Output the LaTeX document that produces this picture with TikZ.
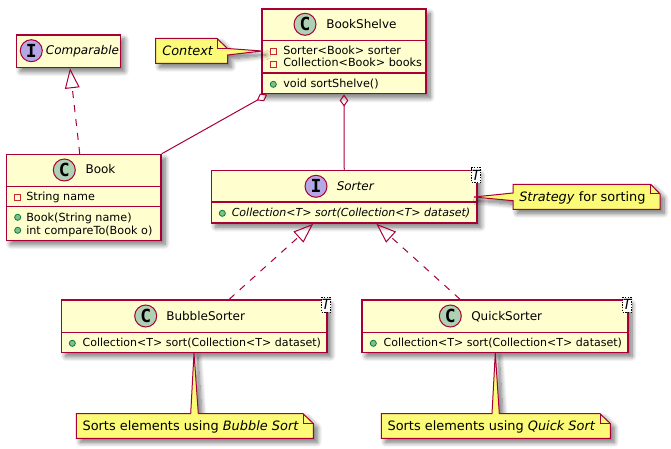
\documentclass[tikz,border=0pt]{standalone}
\usepackage{fontspec}
\setmainfont{DejaVu Sans}
\newfontfamily\spotfont{DejaVu Sans Mono}
\usepackage{tikz}
\usetikzlibrary{calc,arrows.meta,shadows.blur}
\definecolor{umlline}{HTML}{A80036}
\definecolor{umlfill}{HTML}{FEFECE}
\definecolor{notefill}{HTML}{FBFB77}
\definecolor{spotclass}{HTML}{ADD1B2}
\definecolor{spotiface}{HTML}{B4A7E5}
\definecolor{dotline}{HTML}{038048}
\definecolor{dotfill}{HTML}{84BE84}
\definecolor{fieldline}{HTML}{C82930}
\tikzset{
  softshadow/.style={blur shadow={shadow xshift=3pt,shadow yshift=-3pt,shadow blur radius=3.6pt,shadow blur steps=10,shadow opacity=55}},
  classbox/.style={draw=umlline,fill=umlfill,line width=1.1pt,inner sep=0pt,softshadow},
  divider/.style={draw=umlline,line width=.9pt},
  notebox/.style={draw=umlline,fill=notefill,line width=.75pt,line join=miter,softshadow},
  notefold/.style={draw=umlline,line width=.75pt},
  spot/.style={circle,draw=umlline,line width=.75pt,minimum size=16.5pt,inner sep=0pt,font=\spotfont\bfseries\fontsize{13.5pt}{13.5pt}\selectfont},
  titletext/.style={anchor=base west,inner sep=0pt,font=\fontsize{9pt}{11pt}\selectfont},
  membertext/.style={anchor=base west,inner sep=0pt,font=\fontsize{8.4pt}{10pt}\selectfont},
  longtext/.style={anchor=base west,inner sep=0pt,font=\fontsize{8.28pt}{10pt}\selectfont},
  notetext/.style={anchor=base west,inner sep=0pt,font=\fontsize{9.68pt}{12pt}\selectfont},
  publicdot/.style={circle,draw=dotline,fill=dotfill,line width=.6pt,minimum size=4.6pt,inner sep=0pt},
  privatebox/.style={rectangle,draw=fieldline,line width=.6pt,minimum size=4.6pt,inner sep=0pt},
  typeparam/.style={draw=black,dash pattern=on 1pt off 1pt,line width=.5pt,fill=white,inner sep=0pt,minimum width=6.75pt,minimum height=11.25pt,font=\itshape\fontsize{10.5pt}{10.5pt}\selectfont},
  realize/.style={draw=umlline,line width=.75pt,dash pattern=on 5.25pt off 5.25pt,-{Triangle[open,length=15pt,width=11pt,line width=.75pt]}},
  aggregate/.style={draw=umlline,line width=.75pt,{Diamond[open,length=9pt,width=6.5pt,line width=.75pt]}-}
}

\begin{document}
\begin{tikzpicture}[x=.75pt,y=-.75pt]
      \useasboundingbox (0,0) rectangle (671,449);

      % class boxes
      \node[classbox,minimum width=78pt,minimum height=24.4pt] (comparable) at (68.5,51.25) {};
      \node[classbox,minimum width=123pt,minimum height=63.4pt] (bookshelve) at (344,51.5) {};
      \node[classbox,minimum width=115.9pt,minimum height=64.5pt] (book) at (83.75,197.5) {};
      \node[classbox,minimum width=199.1pt,minimum height=39.4pt] (sorter) at (344.25,196.75) {};
      \node[classbox,minimum width=199.1pt,minimum height=39.4pt] (bubble) at (194.25,326.25) {};
      \node[classbox,minimum width=199.5pt,minimum height=39.4pt] (quick) at (495,326.25) {};

      \draw[divider] (262,40.5) -- (426,40.5);
      \draw[divider] (262,73) -- (426,73);
      \draw[divider] (6.5,186.5) -- (161,186.5);
      \draw[divider] (6.5,206.5) -- (161,206.5);
      \draw[divider] (211.5,202) -- (477,202);
      \draw[divider] (61.5,332.5) -- (327,332.5);
      \draw[divider] (362,332.5) -- (628,332.5);

      % notes
      \draw[notebox] (155.5,38.5) -- (217,38.5) -- (227.5,48.5) -- (262,51) -- (227.5,55) -- (227.5,63.3) -- (155.5,63.3) -- cycle;
      \draw[notefold] (217,38.5) -- (217,48.5) -- (227.5,48.5);
      \draw[notebox] (513,184.3) -- (650.7,184.3) -- (660,194) -- (660,209.3) -- (513,209.3) -- (513,200.7) -- (474,197) -- (513,193) -- cycle;
      \draw[notefold] (650.7,184.3) -- (650.7,194) -- (660,194);
      \draw[notebox] (76.3,413.7) -- (190.7,413.7) -- (194,353) -- (198.3,413.7) -- (303,413.7) -- (313.3,423.5) -- (313.3,438.3) -- (76.3,438.3) -- cycle;
      \draw[notefold] (303,413.7) -- (303,423.5) -- (313.3,423.5);
      \draw[notebox] (381.3,413.7) -- (492,413.7) -- (495.3,353) -- (499.3,413.7) -- (600,413.7) -- (610.3,423.5) -- (610.3,438.3) -- (381.3,438.3) -- cycle;
      \draw[notefold] (600,413.7) -- (600,423.5) -- (610.3,423.5);

      % spots
      \node[spot,fill=spotiface] (comparableSpot) at (31.3,50.7) {I};
      \node[spot,fill=spotclass] (bookshelveSpot) at (305,24.3) {C};
      \node[spot,fill=spotclass] (bookSpot) at (64.3,170) {C};
      \node[spot,fill=spotiface] (sorterSpot) at (316,186.3) {I};
      \node[spot,fill=spotclass] (bubbleSpot) at (145.7,316) {C};
      \node[spot,fill=spotclass] (quickSpot) at (450.3,316) {C};

      % titles
      \node[titletext] (comparableName) at (45.7,54.5) {\itshape Comparable};
      \node[titletext] (bookshelveName) at (326,28.3) {BookShelve};
      \node[titletext] (bookName) at (85.3,174) {Book};
      \node[titletext] (sorterName) at (336.5,190.5) {\itshape Sorter};
      \node[titletext] (bubbleName) at (166,320) {BubbleSorter};
      \node[titletext] (quickName) at (471,320) {QuickSorter};

      % type parameters
      \node[typeparam] (sorterParam) at (476.2,175.3) {T};
      \node[typeparam] (bubbleParam) at (326.2,304.8) {T};
      \node[typeparam] (quickParam) at (627.2,304.8) {T};

      % members
      \node[privatebox] (shelveMarkA) at (273.3,51.3) {};
      \node[membertext] (shelveFieldA) at (283,54.5) {Sorter<Book> sorter};
      \node[privatebox] (shelveMarkB) at (273.3,64.3) {};
      \node[membertext] (shelveFieldB) at (283,67) {Collection<Book> books};
      \node[publicdot] (shelveMarkC) at (273.3,84.3) {};
      \node[membertext] (shelveMethod) at (283,88) {void sortShelve()};

      \node[privatebox] (bookMarkA) at (17.7,197.3) {};
      \node[membertext] (bookField) at (26,200) {String name};
      \node[publicdot] (bookMarkB) at (17.7,217.3) {};
      \node[membertext] (bookCtor) at (26,221) {Book(String name)};
      \node[publicdot] (bookMarkC) at (17.7,230.3) {};
      \node[membertext] (bookMethod) at (26,234) {int compareTo(Book o)};

      \node[publicdot] (sorterMark) at (222.3,213.3) {};
      \node[longtext] (sorterMethod) at (231.5,216.7) {\itshape Collection<T> sort(Collection<T> dataset)};
      \node[publicdot] (bubbleMark) at (72.3,343.3) {};
      \node[longtext] (bubbleMethod) at (82.3,346.5) {Collection<T> sort(Collection<T> dataset)};
      \node[publicdot] (quickMark) at (373.3,343.3) {};
      \node[longtext] (quickMethod) at (383.3,346.5) {Collection<T> sort(Collection<T> dataset)};

      % note texts
      \node[notetext] (contextText) at (162,56) {\itshape Context};
      \node[notetext] (strategyText) at (519,201.7) {\textit{Strategy} for sorting};
      \node[notetext] (bubbleText) at (82.3,430) {Sorts elements using \textit{Bubble Sort}};
      \node[notetext] (quickText) at (387.3,430) {Sorts elements using \textit{Quick Sort}};

      % connectors
      \draw[realize] ($(book.north)+(-4,0)$) -- ($(comparable.south)+(1.5,0)$);
      \draw[realize] ($(bubble.north)+(35,0)$) -- ($(sorter.south)+(-31,0)$);
      \draw[realize] ($(quick.north)+(-35,0)$) -- ($(sorter.south)+(32,0)$);
      \draw[aggregate] ($(bookshelve.south west)+(6,0)$) -- (book.north east);
      \draw[aggregate] (bookshelve.south) -- (sorter.north);
\end{tikzpicture}
\end{document}
